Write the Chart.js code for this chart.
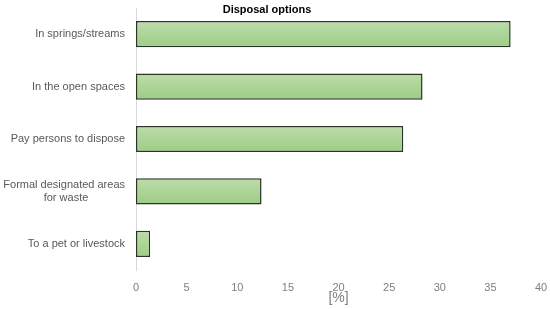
<!DOCTYPE html>
<html>
<head>
<meta charset="utf-8">
<script src="https://cdn.jsdelivr.net/npm/chart.js@4"></script>
<style>
  html, body { margin: 0; padding: 0; background: #fff; }
  #wrap { width: 550px; height: 309px; position: relative; }
</style>
</head>
<body>
<div id="wrap"><canvas id="myChart" width="550" height="309"></canvas></div>
<script>
// data
let categories = [
	'In springs/streams',
	'In the open spaces',
	'Pay persons to dispose',
	['Formal designated areas', 'for waste            '],
	'To a pet or livestock'
];
let values = [37.0, 28.3, 26.4, 12.4, 1.4];
let chartTitle = 'Disposal options';
let axisTitle = '[%]';

// per bar vertical gradient
function barFill(context){
	let chart = context.chart;
	let y = chart.scales.y;
	if(!y || context.dataIndex === undefined) return '#a9d392';
	let c = y.getPixelForValue(context.dataIndex);
	if(!isFinite(c)) return '#a9d392';
	let g = chart.ctx.createLinearGradient(0, c - 13, 0, c + 13);
	g.addColorStop(0, '#bddcab');
	g.addColorStop(1, '#9ccd84');
	return g;
}

let titlePlugin = {
	id: 'topTitle',
	afterDraw: function(chart){
		let ctx = chart.ctx;
		ctx.save();
		ctx.font = 'bold 11px "Liberation Sans", Arial, sans-serif';
		ctx.fillStyle = '#000';
		ctx.textAlign = 'center';
		ctx.textBaseline = 'middle';
		ctx.fillText(chartTitle, 267, 10);
		ctx.restore();
	}
};

let ctx = document.getElementById('myChart').getContext('2d');
let chart = new Chart(ctx, {
	type: 'bar',
	data: {
		labels: categories,
		datasets: [{
			data: values,
			backgroundColor: barFill,
			borderColor: '#2a3526',
			borderWidth: 1.5,
			borderSkipped: false,
			categoryPercentage: 0.5,
			barPercentage: 1
		}]
	},
	options: {
		indexAxis: 'y',
		responsive: false,
		animation: false,
		layout: { padding: { top: 8, right: 9, left: 0, bottom: 0 } },
		plugins: {
			legend: { display: false },
			title: { display: false },
			tooltip: { enabled: false }
		},
		scales: {
			x: {
				min: 0,
				max: 40,
				ticks: {
					stepSize: 5,
					padding: 11,
					color: '#7f7f7f',
					font: { family: '"Liberation Sans", Arial, sans-serif', size: 11 }
				},
				grid: { display: false, drawTicks: false },
				border: { display: false },
				title: {
					display: true,
					text: axisTitle,
					color: '#7f7f7f',
					padding: { top: 0, bottom: 2 },
					font: { family: '"Liberation Sans", Arial, sans-serif', size: 14 }
				},
				afterFit: function(scale){
					scale.height = 39;
					scale.paddingLeft = 0;
					scale.paddingRight = 0;
				}
			},
			y: {
				ticks: {
					padding: 11,
					color: '#595959',
					font: { family: '"Liberation Sans", Arial, sans-serif', size: 11 }
				},
				grid: { display: false, drawTicks: false },
				border: { display: true, color: '#d9d9d9', width: 1 },
				afterFit: function(scale){
					scale.width = 136;
					scale.paddingTop = 0;
					scale.paddingBottom = 0;
				}
			}
		}
	},
	plugins: [titlePlugin]
});
chart.update();
</script>
</body>
</html>
